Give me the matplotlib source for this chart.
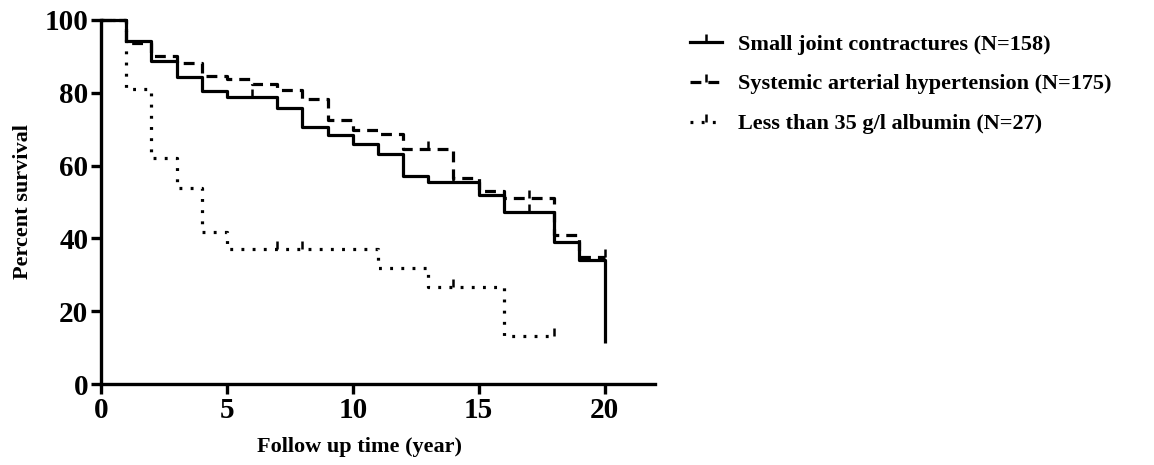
import numpy as np
import matplotlib
matplotlib.use('Agg')
import matplotlib.pyplot as plt
from matplotlib.lines import Line2D

plt.rcParams['font.family'] = ['Liberation Serif', 'DejaVu Serif']
plt.rcParams['font.weight'] = 'bold'

# Kaplan-Meier steps (time in years, percent survival)
joint_t = [0, 1, 2, 3, 4, 5, 7, 8, 9, 10, 11, 12, 13, 15, 16, 18, 19, 20]
joint_s = [100, 94.3, 88.8, 84.4, 80.5, 78.9, 75.8, 70.6, 68.4, 66.0, 63.2,
           57.1, 55.5, 51.8, 47.3, 39.0, 34.2, 11.2]
joint_cens = [6, 14, 17]

hyp_t = [0, 1, 2, 3, 4, 5, 6, 7, 8, 9, 10, 11, 12, 14, 15, 16, 18, 19, 20]
hyp_s = [100, 93.8, 90.2, 88.1, 84.7, 83.7, 82.4, 80.7, 78.3, 72.5, 69.7,
         68.6, 64.7, 56.7, 53.0, 51.1, 40.9, 34.9, 34.9]
hyp_cens = [13, 17, 20]

alb_t = [0, 1, 2, 3, 4, 5, 11, 13, 16, 18]
alb_s = [100, 81.0, 62.2, 53.9, 41.8, 37.2, 31.9, 26.6, 13.3, 13.3]
alb_cens = [7, 8, 14, 18]

labels = ['Small joint contractures (N=158)',
          'Systemic arterial hypertension (N=175)',
          'Less than 35 g/l albumin (N=27)']

LW = 2.3
tick_marker = [(0, 0), (0, 1)]
styles = [dict(linestyle='-'),
          dict(linestyle=(0, (3.4, 2.2))),
          dict(linestyle=(0, (0.9, 2.6)))]


def surv_at(t, s, x):
    i = np.searchsorted(t, x, side='right') - 1
    return np.array(s)[i]


fig = plt.figure(figsize=(11.54, 4.65), dpi=100)
ax = fig.add_axes([0.0875, 0.174, 0.480, 0.783])

series = [(joint_t, joint_s, joint_cens), (hyp_t, hyp_s, hyp_cens),
          (alb_t, alb_s, alb_cens)]
handles = []
for (t, s, c), st, lab in zip(series, styles, labels):
    ax.step(t, s, where='post', color='black', lw=LW,
            solid_capstyle='butt', dash_capstyle='butt', **st)
    ax.plot(c, surv_at(t, s, c), ls='none', marker=tick_marker,
            markersize=11, markeredgewidth=1.8, color='black')
    handles.append(Line2D([], [], color='black', lw=LW, marker=tick_marker,
                          markersize=11, markeredgewidth=1.8,
                          dash_capstyle='butt', **st))

ax.set_xlim(0, 22)
ax.set_ylim(0, 100)
ax.set_xticks([0, 5, 10, 15, 20])
ax.set_yticks([0, 20, 40, 60, 80, 100])
for sp in ['top', 'right']:
    ax.spines[sp].set_visible(False)
for sp in ['left', 'bottom']:
    ax.spines[sp].set_linewidth(2.4)
ax.tick_params(width=2.4, length=7, labelsize=21, pad=2)
ax.set_xlabel('Follow up time (year)', fontsize=16, fontweight='bold')
ax.xaxis.set_label_coords(0.466, -0.145)
ax.set_ylabel('Percent survival', fontsize=16, fontweight='bold', labelpad=8)
for ln in ax.lines:
    ln.set_clip_on(False)

fig.legend(handles, labels, loc='upper left', bbox_to_anchor=(0.598, 0.927),
           frameon=False, handlelength=1.44, handletextpad=0.72,
           labelspacing=0.87, borderaxespad=0, borderpad=0,
           prop={'weight': 'bold', 'size': 16})

fig.savefig('out.png', dpi=100)
